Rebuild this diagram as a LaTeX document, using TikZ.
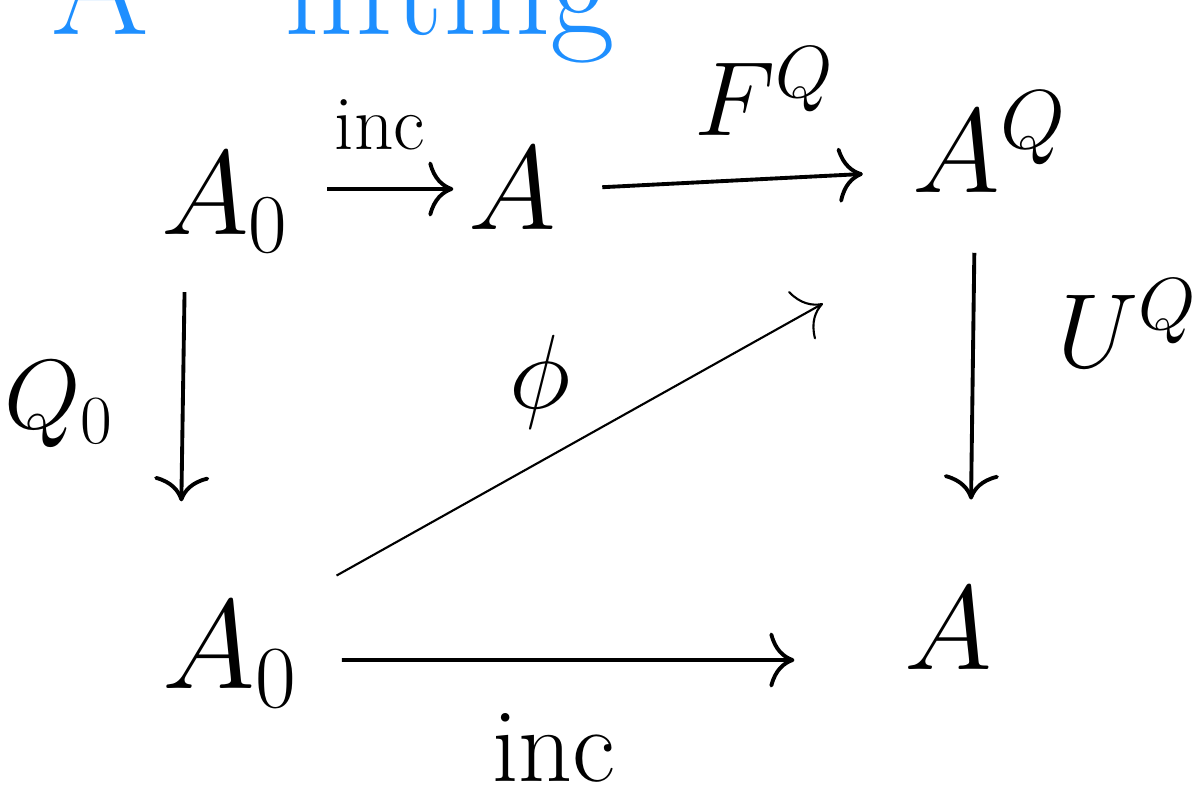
\RequirePackage{fix-cm}
\documentclass[tikz,border=0pt]{standalone}
\usepackage{amsmath}
\usetikzlibrary{arrows.meta}
\definecolor{liftblue}{HTML}{1E8FFF}

\begin{document}
\begin{tikzpicture}[
  x=0.01cm, y=-0.01cm,
  obj/.style={font=\fontsize{34}{40}\selectfont, inner sep=3pt},
  lbl/.style={font=\fontsize{30}{36}\selectfont},
  arr/.style={-{To[length=2.5mm, width=5.5mm]}, line width=1.1pt, black},
  diag/.style={-{To[length=2.5mm, width=5.5mm]}, line width=0.6pt, black},
  title/.style={font=\fontsize{40}{48}\selectfont, text=liftblue, anchor=base}
]
\useasboundingbox (0,0) rectangle (1197,794);
\clip (0,0) rectangle (1197,794);
\node[title] (t1) at (100,35) {A};
\node[title] (t2) at (450,35) {lifting};

\node[obj] (a0) at (225,203) {$A_0$};
\node[obj] (a) at (512,189) {$A$};
\node[obj] (aq) at (990,142) {$A^Q$};
\node[obj, font=\fontsize{36}{42}\selectfont] (b0) at (230,655) {$A_0$};
\node[obj] (b) at (948,629) {$A$};

\draw[arr, shorten <=7.7pt, shorten >=1pt] (a0.east |- a.west) -- node[lbl, font=\fontsize{22}{26}\selectfont, above=2.5mm, pos=0.51] {inc} (a.west);
\draw[arr, shorten <=10pt, shorten >=11pt] (a.east) -- node[lbl, above=3mm, pos=0.59] {$F^Q$} ([yshift=-3mm]aq.west);
\draw[arr, shorten <=8pt, shorten >=25.5pt] ([xshift=-4mm]a0.south) -- node[lbl, font=\fontsize{28}{34}\selectfont, left=5.5mm, pos=0.43] {$Q_0$} ([xshift=-5mm]b0.north);
\draw[arr, shorten <=14pt, shorten >=22pt] ([xshift=-1.5mm]aq.south) -- node[lbl, right=7mm, pos=0.32] {$U^Q$} ([xshift=2.2mm]b.north);
\draw[diag, shorten <=9pt, shorten >=25.6pt] (b0.north east) -- node[lbl, above=2mm, pos=0.39] {$\phi$} ([yshift=-5.6mm]aq.south west);
\draw[arr, shorten <=9.4pt, shorten >=28pt] ([yshift=-0.5mm]b0.east) -- node[lbl, below=4mm, pos=0.42] {inc} ([yshift=-3.1mm]b.west);
\end{tikzpicture}
\end{document}
